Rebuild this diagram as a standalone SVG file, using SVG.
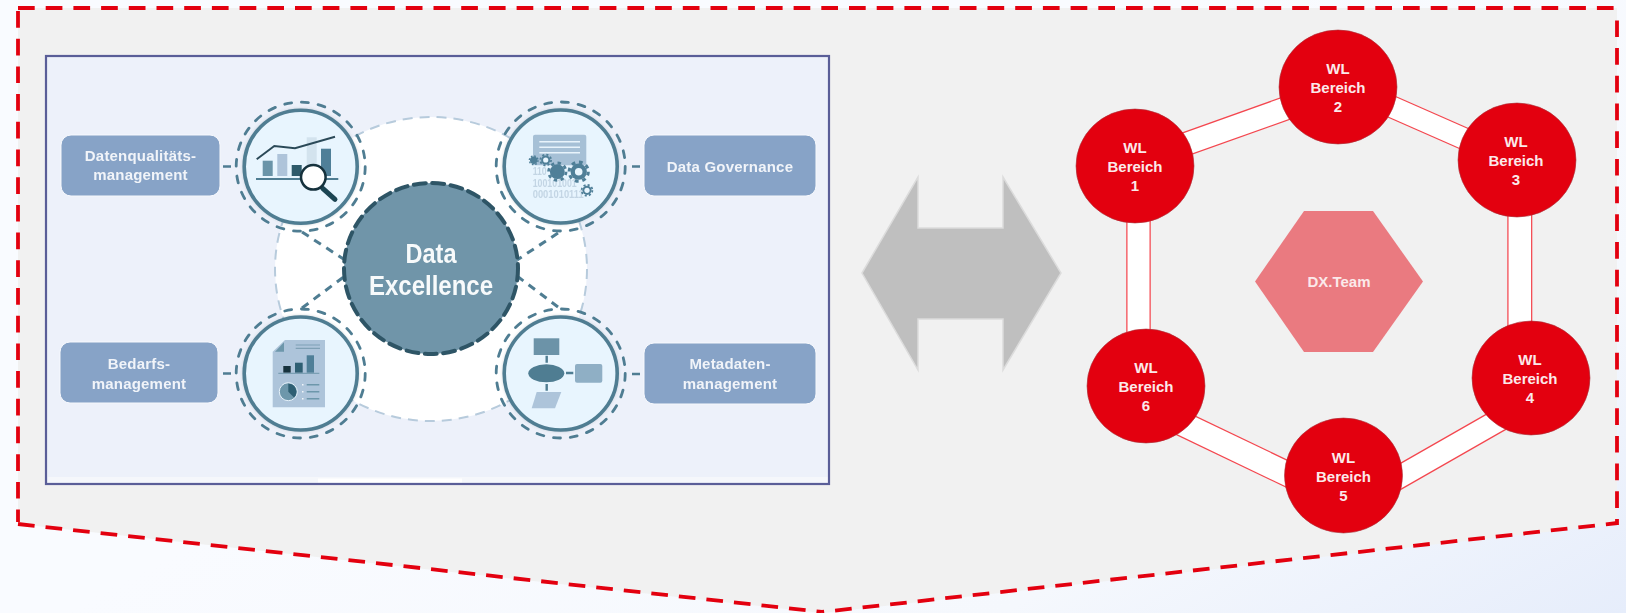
<svg xmlns="http://www.w3.org/2000/svg" xmlns:xlink="http://www.w3.org/1999/xlink" width="1626" height="613" viewBox="0 0 1626 613">
<defs>
<linearGradient id="bg" x1="0.35" y1="0.55" x2="1" y2="1"><stop offset="0" stop-color="#f9fbff"/><stop offset="0.6" stop-color="#f5f8fd"/><stop offset="1" stop-color="#e6edfb"/></linearGradient>
<filter id="soft" x="-5%" y="-5%" width="110%" height="110%"><feGaussianBlur stdDeviation="0.45"/></filter>
<filter id="halo" x="-15%" y="-15%" width="130%" height="130%"><feGaussianBlur stdDeviation="1.5"/></filter>
<g id="gear"><circle r="7.4"/><circle r="8.7" fill="none" stroke="currentColor" stroke-width="2.8" stroke-dasharray="3.4 3.43"/></g>
<style>
.lbl{fill:#87a3c7;stroke:#f6f8fc;stroke-width:1}
.lt{font:bold 15px "Liberation Sans",Arial,sans-serif;fill:#f1f4f9;text-anchor:middle;letter-spacing:.2px}
.wl{font:bold 15px "Liberation Sans",Arial,sans-serif;fill:#fbe9ea;text-anchor:middle}
.red{fill:#e3000f;stroke:#a8323a;stroke-width:.6}
.edgeo{stroke:#f4474f;fill:none}
.edgei{stroke:#fff;fill:none}
.dash{fill:none;stroke:#e3000f;stroke-width:3.8;stroke-dasharray:16.7 11}
.ring{fill:#e8f5fe;stroke:#4f7d92;stroke-width:3.6}
.halo{fill:#7f8f99;opacity:.3}
.ringd{fill:none;stroke:#4f7d92;stroke-width:2.8;stroke-dasharray:7 9.9;stroke-linecap:round}
.link{fill:none;stroke:#4f7d92;stroke-width:3;stroke-dasharray:8 6.5}
.bin{font:bold 10.5px "Liberation Sans",Arial,sans-serif;fill:#c3d5e4}
.dx{font-family:"Liberation Sans",Arial,sans-serif;font-weight:bold;font-size:28.5px;fill:#f7fafb;text-anchor:middle}
</style>
</defs>
<rect width="1626" height="613" fill="url(#bg)"/>
<g id="frame">
<polygon points="18,8 1617,8 1617,524 822,613 18,524" fill="#f1f1f1"/>
<path class="dash" d="M18,8H1617"/>
<path class="dash" d="M18,11V522"/>
<path class="dash" d="M1617,20.4V525"/>
<path class="dash" d="M18,524L822,612"/>
<path class="dash" d="M1617.5,523L822,612" stroke-dashoffset="5" style="stroke-dashoffset:5"/>
</g>
<g id="panel-bg">
<rect x="46" y="56" width="783" height="428" fill="#edf1fa"/>
<rect x="48" y="477" width="780" height="5.5" fill="#f5f7fb"/>
<rect x="318" y="478.5" width="144" height="4" fill="#fff"/>
<rect x="46" y="56" width="783" height="428" fill="none" stroke="#5a5e98" stroke-width="2.2"/>
</g>
<g filter="url(#soft)">
<g id="hub-bg"><ellipse cx="431" cy="269" rx="156" ry="152" fill="#fff" stroke="#b7cbdc" stroke-width="2" stroke-dasharray="10 7"/></g>
<g id="connectors-left">
<path class="link" d="M302,232L345,260"/>
<path class="link" d="M302,308L345,276"/>
<path class="link" d="M558,233L517,260"/>
<path class="link" d="M517,276L558,307"/>
<path d="M223,166.5H231M632,166.5H640M223,373.5H231M632,374H640" stroke="#4f7d92" stroke-width="2.6" fill="none"/>
</g>
<g id="data-excellence">
<ellipse cx="431" cy="268.5" rx="87" ry="85.5" fill="#6f95a9" stroke="#2f5566" stroke-width="4" stroke-dasharray="12 6.5" stroke-linecap="round"/>
<text class="dx" x="431" y="262.5" textLength="51" lengthAdjust="spacingAndGlyphs">Data</text>
<text class="dx" x="431" y="294.5" textLength="124" lengthAdjust="spacingAndGlyphs">Excellence</text>
</g>
<g id="n-datenqualitaet">
<rect class="lbl" x="61" y="135" width="159" height="61" rx="10"/>
<text class="lt" x="140.5" y="160.5">Datenqualitäts-</text>
<text class="lt" x="140.5" y="180">management</text>
<circle class="halo" cx="300.7" cy="166.7" r="58.5" filter="url(#halo)"/>
<circle class="ring" cx="300.7" cy="166.7" r="56.5"/>
<circle class="ringd" cx="300.7" cy="166.7" r="64.5"/>
<rect x="262.7" y="160.7" width="10" height="15.3" fill="#6a94a8"/>
<rect x="277.3" y="154" width="10" height="22" fill="#aec4da"/>
<rect x="291.7" y="165" width="10" height="11" fill="#2f5a6b"/>
<rect x="306.7" y="137.3" width="10" height="38.7" fill="#d3e3ee"/>
<rect x="321" y="148.7" width="10" height="27.3" fill="#4f7f98"/>
<path d="M256,179H338.3" stroke="#4f7d92" stroke-width="2"/>
<path d="M256.7,159.3L274.3,146L295,148.3L335,136.7" fill="none" stroke="#2c4a58" stroke-width="2"/>
<path d="M322.7,188.3L335,199.3" stroke="#1f4452" stroke-width="5" stroke-linecap="round"/>
<circle cx="313.3" cy="177.3" r="12.3" fill="#fff" stroke="#13303c" stroke-width="2.5"/>
</g>
<g id="n-governance">
<rect class="lbl" x="644" y="135" width="172" height="61" rx="10"/>
<text class="lt" x="730" y="172">Data Governance</text>
<circle class="halo" cx="560.7" cy="166.5" r="58.5" filter="url(#halo)"/>
<circle class="ring" cx="560.7" cy="166.5" r="56.5"/>
<circle class="ringd" cx="560.7" cy="166.5" r="64.5"/>
<rect x="533" y="134.7" width="53.3" height="30.6" rx="2" fill="#a6c0d6"/>
<path d="M539.3,141.7H580M539.3,147.3H580M539.3,152.7H580" stroke="#e8f3fb" stroke-width="1.5"/>
<text class="bin" x="532.7" y="175" textLength="14" lengthAdjust="spacingAndGlyphs">110</text>
<text class="bin" x="532.7" y="186.7" textLength="44" lengthAdjust="spacingAndGlyphs">100101001</text>
<text class="bin" x="532.7" y="198" textLength="51" lengthAdjust="spacingAndGlyphs">0001010111</text>
<g fill="#4f7f98" color="#4f7f98">
<use xlink:href="#gear" href="#gear" transform="translate(557.3,171.7)"/>
<use xlink:href="#gear" href="#gear" transform="translate(578.7,171.7) scale(1.1)"/>
<use xlink:href="#gear" href="#gear" transform="translate(533.7,160.3) scale(.5)"/>
<use xlink:href="#gear" href="#gear" transform="translate(545.7,160) scale(.62)"/>
<use xlink:href="#gear" href="#gear" transform="translate(587,190.3) scale(.62)"/>
</g>
<circle cx="578.7" cy="171.7" r="3.8" fill="#e8f5fe"/>
<circle cx="545.7" cy="160" r="2.6" fill="#e8f5fe"/>
<circle cx="587" cy="190.3" r="2.6" fill="#e8f5fe"/>
</g>
<g id="n-bedarf">
<rect class="lbl" x="60" y="342" width="158" height="61" rx="10"/>
<text class="lt" x="139" y="369">Bedarfs-</text>
<text class="lt" x="139" y="389">management</text>
<circle class="halo" cx="300.7" cy="373.5" r="58.5" filter="url(#halo)"/>
<circle class="ring" cx="300.7" cy="373.5" r="56.5"/>
<circle class="ringd" cx="300.7" cy="373.5" r="64.5"/>
<polygon points="285,340 325,340 325,407.3 272.7,407.3 272.7,351.7" fill="#adc4da"/>
<polygon points="275,351.7 284,351.7 284,342.3" fill="#6d97ab"/>
<path d="M295.7,345H320M295.7,348.3H320" stroke="#7fa0b5" stroke-width="1.2"/>
<rect x="283.3" y="366" width="7.4" height="6.7" fill="#17303c"/>
<rect x="295" y="362.7" width="7.7" height="10" fill="#2f5f73"/>
<rect x="306.7" y="355.3" width="7.3" height="17.4" fill="#4f7f98"/>
<path d="M278.3,373.3H319.3" stroke="#6d97ab" stroke-width="1"/>
<circle cx="288.3" cy="391.7" r="9" fill="#6d97ab" stroke="#e8f3fb" stroke-width="1"/>
<path d="M288.3,391.7V383.7A8,8 0 0 1 294,397.4Z" fill="#2f5f73"/>
<path d="M306.7,384.7H319.3M306.7,391.7H319.3M306.7,398.7H319.3" stroke="#6d97ab" stroke-width="1.5"/>
<path d="M302,384.7h1.5M302,391.7h1.5M302,398.7h1.5" stroke="#f1f6fa" stroke-width="1.5"/>
</g>
<g id="n-metadaten">
<rect class="lbl" x="644" y="343" width="172" height="61" rx="10"/>
<text class="lt" x="730" y="369">Metadaten-</text>
<text class="lt" x="730" y="389">management</text>
<circle class="halo" cx="560.7" cy="373.5" r="58.5" filter="url(#halo)"/>
<circle class="ring" cx="560.7" cy="373.5" r="56.5"/>
<circle class="ringd" cx="560.7" cy="373.5" r="64.5"/>
<rect x="533.7" y="338.3" width="25.6" height="16.7" fill="#6c93a8"/>
<path d="M546.7,355.7V362.7M546.7,384V390.7M566,373H573.3" stroke="#4f7d92" stroke-width="2.4"/>
<ellipse cx="546.3" cy="373.3" rx="18" ry="9" fill="#4f7d92"/>
<rect x="575" y="364" width="27.3" height="18.7" rx="2" fill="#8fafc5"/>
<polygon points="536.7,392 561.3,392 555,408.3 531.7,408.3" fill="#adc4da"/>
</g>
</g>
<g id="double-arrow">
<polygon points="862,273 918,177 918,228 1003,228 1003,177 1061,273 1003,370 1003,319 918,319 918,370" fill="#bfbfbf" stroke="#dcdcdc" stroke-width="1.5"/>
</g>
<g id="connectors">
<path class="edgeo" stroke-width="24.5" d="M1155,155L1315,98"/><path class="edgei" stroke-width="22" d="M1155,155L1315,98"/>
<path class="edgeo" stroke-width="23" d="M1365,95L1490,150"/><path class="edgei" stroke-width="20.5" d="M1365,95L1490,150"/>
<path class="edgeo" stroke-width="25" d="M1519.8,195V345"/><path class="edgei" stroke-width="22.5" d="M1519.8,195V345"/>
<path class="edgeo" stroke-width="24" d="M1375,491L1515,411"/><path class="edgei" stroke-width="21.5" d="M1375,491L1515,411"/>
<path class="edgeo" stroke-width="26" d="M1160,413L1325,492"/><path class="edgei" stroke-width="23.5" d="M1160,413L1325,492"/>
<path class="edgeo" stroke-width="24.5" d="M1138.5,195V355"/><path class="edgei" stroke-width="22" d="M1138.5,195V355"/>
</g>
<g id="dx-team">
<polygon points="1304,211 1373,211 1423,281.5 1373,352 1304,352 1255,281.5" fill="#ea7a80"/>
<text class="wl" x="1339" y="287">DX.Team</text>
</g>
<g id="wl1"><ellipse class="red" cx="1135" cy="166" rx="59" ry="57"/><text class="wl" x="1135" y="153">WL</text><text class="wl" x="1135" y="172">Bereich</text><text class="wl" x="1135" y="191">1</text></g>
<g id="wl2"><ellipse class="red" cx="1338" cy="87" rx="59" ry="57"/><text class="wl" x="1338" y="74">WL</text><text class="wl" x="1338" y="93">Bereich</text><text class="wl" x="1338" y="112">2</text></g>
<g id="wl3"><ellipse class="red" cx="1517" cy="160" rx="59" ry="57"/><text class="wl" x="1516" y="147">WL</text><text class="wl" x="1516" y="166">Bereich</text><text class="wl" x="1516" y="185">3</text></g>
<g id="wl4"><ellipse class="red" cx="1531" cy="378" rx="59" ry="57"/><text class="wl" x="1530" y="365">WL</text><text class="wl" x="1530" y="384">Bereich</text><text class="wl" x="1530" y="403">4</text></g>
<g id="wl5"><ellipse class="red" cx="1343.5" cy="475.5" rx="59" ry="57.5"/><text class="wl" x="1343.5" y="463">WL</text><text class="wl" x="1343.5" y="482">Bereich</text><text class="wl" x="1343.5" y="501">5</text></g>
<g id="wl6"><ellipse class="red" cx="1146" cy="386" rx="59" ry="57"/><text class="wl" x="1146" y="373">WL</text><text class="wl" x="1146" y="392">Bereich</text><text class="wl" x="1146" y="411">6</text></g>
</svg>
